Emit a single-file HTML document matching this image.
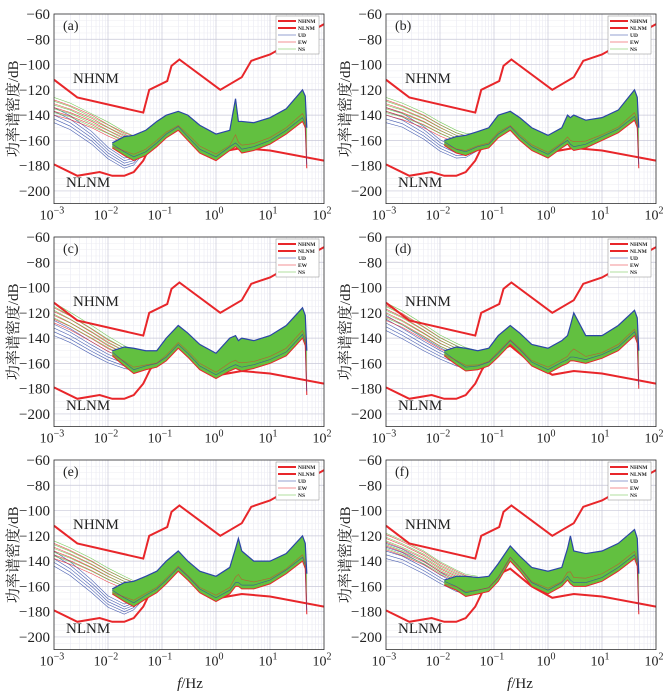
<!DOCTYPE html>
<html><head><meta charset="utf-8">
<style>
html,body{margin:0;padding:0;background:#fff;}
svg{display:block;font-family:"Liberation Serif","Noto Serif CJK SC",serif;}
</style></head>
<body>
<svg id="fig" width="670" height="692" viewBox="0 0 670 692" xmlns="http://www.w3.org/2000/svg"></svg>
<script>
// ---- data ----
const panelLabels = ["(a)","(b)","(c)","(d)","(e)","(f)"];
const nhnmFreq = [0.001,0.0027,0.045,0.058,0.125,0.15,0.21,1.2,3,4.5,10,100];
const nhnmDb   = [-112,-126,-138,-120,-113,-101,-96,-120,-110,-97,-92,-68];
const nlnmFreq = [0.001,0.0027,0.007,0.012,0.02,0.03,0.045,0.06,0.1,0.2,0.5,1.2,3,10,100];
const nlnmDb   = [-179,-188,-185,-188,-188,-185,-176,-165,-152,-146,-160,-169,-166,-168,-176];
const bandFreq = [0.012,0.02,0.03,0.05,0.08,0.12,0.2,0.3,0.5,1,1.8,2.3,2.6,3,5,10,20,40,45,48];
const bandUpper = [
 [-162,-157,-156,-152,-145,-140,-137,-140,-148,-155,-152,-127,-145,-145,-146,-142,-135,-120,-125,-150],
 [-160,-157,-156,-153,-150,-140,-137,-142,-150,-156,-150,-140,-142,-140,-144,-142,-136,-120,-126,-150],
 [-150,-147,-148,-150,-150,-140,-130,-136,-145,-152,-140,-138,-142,-140,-142,-138,-130,-116,-122,-150],
 [-150,-147,-148,-150,-148,-138,-130,-136,-145,-148,-142,-138,-130,-120,-138,-138,-130,-118,-124,-150],
 [-162,-157,-156,-152,-148,-140,-132,-140,-148,-152,-145,-130,-122,-132,-140,-140,-134,-120,-126,-150],
 [-155,-152,-152,-153,-152,-142,-128,-136,-145,-148,-145,-130,-120,-132,-134,-132,-126,-115,-122,-150]
];
const bandLower = [
 [-166,-172,-176,-172,-165,-158,-152,-160,-170,-176,-168,-165,-167,-170,-168,-163,-155,-145,-150,-182],
 [-164,-170,-172,-168,-166,-158,-152,-160,-168,-174,-166,-163,-166,-168,-166,-160,-154,-144,-150,-182],
 [-154,-162,-168,-165,-163,-158,-148,-155,-165,-172,-166,-164,-165,-166,-164,-160,-154,-140,-146,-185],
 [-154,-161,-166,-165,-162,-155,-145,-152,-162,-168,-162,-160,-158,-158,-160,-156,-150,-138,-144,-180],
 [-166,-172,-176,-170,-165,-158,-148,-155,-165,-172,-166,-160,-160,-162,-162,-158,-150,-140,-146,-182],
 [-159,-163,-168,-166,-164,-156,-140,-148,-160,-166,-160,-155,-158,-160,-160,-156,-148,-138,-144,-182]
];
const traceFreq = [0.001,0.002,0.005,0.01,0.02,0.03,0.05];
const traceUD = [
 [-140,-146,-158,-170,-178,-176,-165],
 [-140,-144,-154,-164,-170,-170,-165],
 [-132,-138,-148,-155,-160,-162,-160],
 [-128,-135,-145,-152,-158,-160,-160],
 [-138,-146,-160,-172,-178,-175,-165],
 [-132,-136,-145,-153,-160,-162,-162]
];
const traceEW = [
 [-134,-138,-145,-152,-158,-160,-158],
 [-134,-138,-145,-152,-158,-160,-158],
 [-122,-128,-138,-146,-152,-155,-155],
 [-120,-126,-136,-144,-150,-153,-154],
 [-132,-137,-145,-152,-158,-160,-157],
 [-125,-130,-138,-146,-152,-155,-156]
];
const traceNS = [
 [-132,-136,-144,-150,-157,-160,-158],
 [-132,-136,-143,-150,-156,-158,-158],
 [-118,-125,-135,-143,-150,-153,-154],
 [-118,-124,-134,-142,-148,-151,-153],
 [-130,-135,-143,-150,-156,-159,-156],
 [-124,-129,-137,-145,-151,-154,-155]
];
const traceSpread = [-6,-3,0,3,6];
const yTicks = [-60,-80,-100,-120,-140,-160,-180,-200];
const xTickExps = [-3,-2,-1,0,1,2];
const legendNames = ["NHNM","NLNM","UD","EW","NS"];

// ---- layout ----
const NS="http://www.w3.org/2000/svg";
const svg=document.getElementById('fig');
const colX=[54,386], rowY=[14,237,460], W=270, H=189.6;
const RED="#e8262a", GREEN="#62c040", BLUE="#2b45a6";
function mk(tag,attrs,parent){const e=document.createElementNS(NS,tag);for(const k in attrs)e.setAttribute(k,attrs[k]);(parent||svg).appendChild(e);return e;}

for(let p=0;p<6;p++){
  const x0=colX[p%2], y0=rowY[Math.floor(p/2)];
  const sx=f=>x0+(Math.log10(f)+3)/5*W;
  const sy=d=>y0+(-60-d)/150*H;
  const g=mk('g',{});
  
  
  const clipId='clip'+p;
  const cp=mk('clipPath',{id:clipId},g);mk('rect',{x:x0,y:y0,width:W,height:H},cp);
  for(let e=-3;e<2;e++)for(let m=2;m<10;m++){const x=sx(m*Math.pow(10,e));mk('line',{x1:x,x2:x,y1:y0,y2:y0+H,stroke:"#e6e6f0","stroke-width":0.5},g);}
  for(let d=-65;d>-210;d-=5){if(d%20===0)continue;const y=sy(d);mk('line',{x1:x0,x2:x0+W,y1:y,y2:y,stroke:"#ececf2","stroke-width":0.5},g);}
  xTickExps.forEach(e=>{const x=sx(Math.pow(10,e));mk('line',{x1:x,x2:x,y1:y0,y2:y0+H,stroke:"#c8c8d8","stroke-width":0.7},g);});
  yTicks.forEach(d=>{const y=sy(d);mk('line',{x1:x0,x2:x0+W,y1:y,y2:y,stroke:"#c8c8d8","stroke-width":0.7},g);});
  const clipG=mk('g',{'clip-path':'url(#'+clipId+')'},g);
  const ln=mk('polyline',{points:nlnmFreq.map((f,i)=>sx(f)+','+sy(nlnmDb[i])).join(' '),fill:'none',stroke:RED,'stroke-width':2},clipG);
  
  
  [[traceUD[p],BLUE,'ud'],[traceEW[p],RED,'ew'],[traceNS[p],GREEN,'ns']].forEach(([arr,col,nm])=>{
    traceSpread.forEach(s=>{
      const pts=traceFreq.map((f,i)=>sx(f)+','+sy(arr[i]+s*(1-i/12))).join(' ');
      const tl=mk('polyline',{points:pts,fill:'none',stroke:col,'stroke-width':0.6,opacity:0.85},clipG);
      
      
    });
  });
  const up=bandUpper[p], lo=bandLower[p];
  const poly=bandFreq.map((f,i)=>sx(f)+','+sy(up[i])).concat(bandFreq.slice().reverse().map((f,i)=>sx(f)+','+sy(lo[bandFreq.length-1-i]))).join(' ');
  const band=mk('polygon',{points:poly,fill:GREEN,stroke:'none'},clipG);
  
  
  const upl=mk('polyline',{points:bandFreq.map((f,i)=>sx(f)+','+sy(up[i])).join(' '),fill:'none',stroke:BLUE,'stroke-width':1.2},clipG);
  
  
  const lol=mk('polyline',{points:bandFreq.map((f,i)=>sx(f)+','+sy(lo[i])).join(' '),fill:'none',stroke:RED,'stroke-width':1},clipG);
  
  
  const lol2=mk('polyline',{points:bandFreq.map((f,i)=>sx(f)+','+sy(lo[i]+3)).join(' '),fill:'none',stroke:BLUE,'stroke-width':0.7,opacity:0.7},clipG);
  
  
  const mid=mk('polyline',{points:bandFreq.map((f,i)=>sx(f)+','+sy((up[i]*0.25+lo[i]*0.75))).join(' '),fill:'none',stroke:RED,'stroke-width':0.6,opacity:0.6},clipG);
  
  
  const hn=mk('polyline',{points:nhnmFreq.map((f,i)=>sx(f)+','+sy(nhnmDb[i])).join(' '),fill:'none',stroke:RED,'stroke-width':2},clipG);
  
  
  mk('rect',{x:x0,y:y0,width:W,height:H,fill:'none',stroke:'#333','stroke-width':0.8},g);
  yTicks.forEach(d=>{const t=mk('text',{x:x0-4,y:sy(d)+5,'text-anchor':'end','font-size':15,fill:'#222'},g);t.textContent='\u2212'+(-d);
    });
  xTickExps.forEach(e=>{const t=mk('text',{x:sx(Math.pow(10,e))-2,y:y0+H+16,'text-anchor':'middle','font-size':14,fill:'#222'},g);
    t.textContent='10';const s=mk('tspan',{dy:-6,'font-size':10},t);s.textContent=(e<0?'\u2212':'')+Math.abs(e);
    });
  const yl=mk('text',{x:0,y:0,'text-anchor':'middle','font-size':15,fill:'#222',transform:`translate(${x0-36},${y0+H/2}) rotate(-90)`},g);
  yl.textContent='功率谱密度/dB';
  
  const pl=mk('text',{x:x0+9,y:y0+16,'font-size':14,fill:'#222'},g);pl.textContent=panelLabels[p];
  
  const t1=mk('text',{x:x0+19,y:y0+69,'font-size':15,fill:'#222'},g);t1.textContent='NHNM';
  
  const t2=mk('text',{x:x0+12,y:y0+173,'font-size':15,fill:'#222'},g);t2.textContent='NLNM';
  
  const lg=mk('g',{},g);
  
  const lx=x0+222, ly=y0+2;
  mk('rect',{x:lx,y:ly,width:43,height:38,fill:'#fff',stroke:'#888','stroke-width':0.5},lg);
  const lcol=[RED,RED,BLUE,RED,GREEN], lw=[2,2,0.6,0.6,0.6];
  legendNames.forEach((n,i)=>{const yy=ly+5+i*7;
    const e=mk('g',{},lg);
    mk('line',{x1:lx+2,x2:lx+20,y1:yy,y2:yy,stroke:lcol[i],'stroke-width':lw[i]},e);
    const t=mk('text',{x:lx+22,y:yy+2,'font-size':5.5,fill:'#222','font-weight':'bold'},e);t.textContent=n;});
}
[190,520].forEach(cx=>{const t=mk('text',{x:cx,y:688,'text-anchor':'middle','font-size':15,fill:'#222'});
  const i=mk('tspan',{'font-style':'italic'},t);i.textContent='f';const r=mk('tspan',{},t);r.textContent='/Hz';
  });
</script>
</body></html>
